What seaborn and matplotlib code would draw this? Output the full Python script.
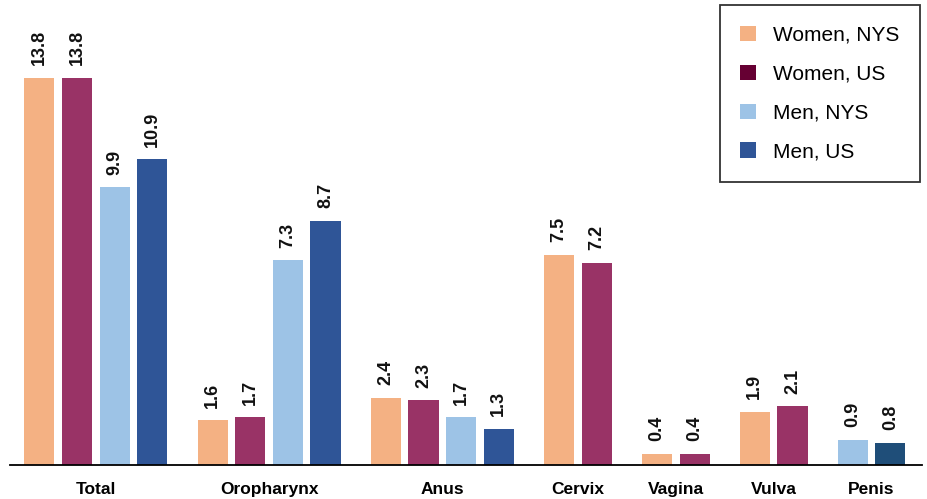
import matplotlib
matplotlib.use("Agg")
import matplotlib.pyplot as plt
from matplotlib.patches import Patch
import numpy as np
import pandas as pd
import seaborn as sns

# Incidence rates per 100,000 by site and group (None = not applicable)
categories = ["Total", "Oropharynx", "Anus", "Cervix", "Vagina", "Vulva", "Penis"]
series = ["Women, NYS", "Women, US", "Men, NYS", "Men, US"]
women_nys = [13.8, 1.6, 2.4, 7.5, 0.4, 1.9, None]
women_us = [13.8, 1.7, 2.3, 7.2, 0.4, 2.1, None]
men_nys = [9.9, 7.3, 1.7, None, None, None, 0.9]
men_us = [10.9, 8.7, 1.3, None, None, None, 0.8]

bar_colors = {"Women, NYS": "#F4B183", "Women, US": "#993366",
              "Men, NYS": "#9DC3E6", "Men, US": "#2F5597"}
legend_colors = {"Women, NYS": "#F4B183", "Women, US": "#660033",
                 "Men, NYS": "#9DC3E6", "Men, US": "#2F5597"}
special_colors = {("Penis", "Men, US"): "#1F4E79"}

# Long-form table; each present bar gets its own slot, with a wider gap between sites
group_gap = 1.6
rows, centers = [], []
pos = 0.0
for i, cat in enumerate(categories):
    vals = [women_nys[i], women_us[i], men_nys[i], men_us[i]]
    slots = []
    for s, v in zip(series, vals):
        if v is None:
            continue
        rows.append({"category": cat, "series": s, "value": v, "pos": pos})
        slots.append(pos)
        pos += 1.0
    centers.append(np.mean(slots))
    pos += group_gap - 1.0
df = pd.DataFrame(rows)

sns.set_theme(style="white")
plt.rcParams["font.family"] = ["Liberation Sans", "DejaVu Sans"]
plt.rcParams["text.color"] = "black"

fig = plt.figure(figsize=(9.28, 4.99), dpi=100)
ax = fig.add_axes([10 / 928, 1 - 465 / 499, 912 / 928, (465 - 16) / 499])

sns.barplot(data=df, x="pos", y="value", hue="series", hue_order=series,
            palette=bar_colors, native_scale=True, dodge=False, width=0.8,
            saturation=1, legend=False, ax=ax)

# Per-bar colour overrides and rotated value labels
lookup = {round(r.pos, 3): r for r in df.itertuples()}
for p in ax.patches:
    cx = round(p.get_x() + p.get_width() / 2, 3)
    r = lookup.get(cx)
    if r is None:
        continue
    key = (r.category, r.series)
    if key in special_colors:
        p.set_facecolor(special_colors[key])
    p.set_edgecolor("none")
    ax.annotate(f"{r.value:.1f}", (cx, r.value), xytext=(0, 9),
                textcoords="offset points", rotation=90, ha="center",
                va="bottom", fontsize=13, fontweight="bold", color="#111111")

ax.set_xlim(-0.78, 23.44)
ax.set_ylim(0, 16.0)
ax.set_xticks(centers)
ax.set_xticklabels(categories, fontsize=12.5, fontweight="bold", color="black")
ax.tick_params(axis="x", length=0, pad=12)
ax.set_yticks([])
ax.set_xlabel("")
ax.set_ylabel("")
for side in ["top", "left", "right"]:
    ax.spines[side].set_visible(False)
ax.spines["bottom"].set_color("black")
ax.spines["bottom"].set_linewidth(1.3)

handles = [Patch(facecolor=legend_colors[s], edgecolor="none", label=s) for s in series]
leg = fig.legend(handles=handles, loc="upper right",
                 bbox_to_anchor=(920 / 928, 1 - 5 / 499), frameon=True,
                 fancybox=False, fontsize=15, handlelength=0.75, handleheight=0.75,
                 handletextpad=0.8, labelspacing=0.95, borderpad=1.0,
                 borderaxespad=0)
for t in leg.get_texts():
    t.set_color("black")
leg.get_frame().set_edgecolor("black")
leg.get_frame().set_linewidth(1.3)

fig.savefig("out.png", dpi=100)
